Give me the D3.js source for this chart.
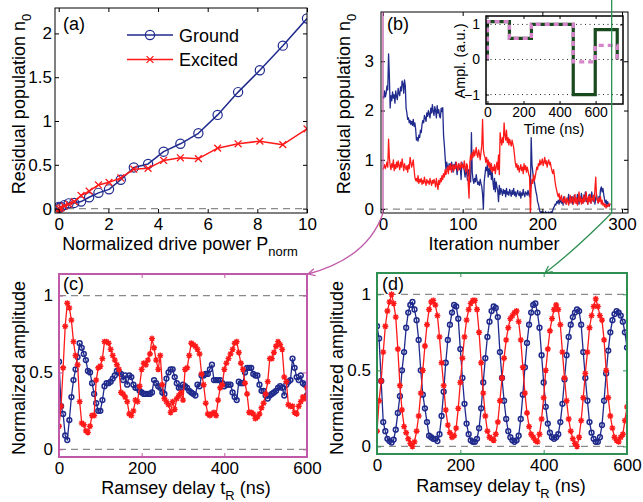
<!DOCTYPE html>
<html>
<head>
<meta charset="utf-8">
<script src="https://cdn.jsdelivr.net/npm/d3@7"></script>
<style>
  body { margin: 0; background: #fff; }
  svg { display: block; }
</style>
</head>
<body>
<svg id="fig" width="643" height="502"></svg>
<script>
// ---------- (a) residual population vs drive power ----------
const powerNorm = [0, 0.025, 0.1, 0.225, 0.4, 0.625, 0.9, 1.225, 1.6, 2.025, 2.5, 3.025, 3.6, 4.225, 4.9, 5.625, 6.4, 7.225, 8.1, 9.025, 10];
const residualGround = [0.02, 0.01, 0.02, 0.04, 0.06, 0.065, 0.08, 0.13, 0.18, 0.22, 0.33, 0.47, 0.51, 0.65, 0.74, 0.86, 1.07, 1.33, 1.58, 1.86, 2.17];
const residualExcited = [-0.04, 0.0, 0.01, 0.03, 0.05, 0.08, 0.15, 0.20, 0.27, 0.30, 0.35, 0.45, 0.46, 0.55, 0.58, 0.57, 0.69, 0.74, 0.77, 0.73, 0.91];
const legendLabels = ["Ground", "Excited"];

// ---------- (b) residual population per optimisation iteration ----------
const iterGround = [
  2.30,2.25,2.40,2.28,2.35,2.50,2.42,3.15,2.70,2.05,
  2.30,2.20,2.38,2.25,2.32,2.15,2.40,2.28,2.22,2.45,
  2.35,2.30,2.48,2.40,2.60,2.55,2.35,2.62,2.50,2.05,
  1.95,1.82,1.85,1.75,1.80,1.72,1.78,1.70,1.82,1.68,
  1.75,1.62,1.40,1.45,1.38,1.50,1.45,1.60,1.55,1.72,
  1.80,1.75,1.90,1.85,1.78,1.95,1.88,2.00,1.92,1.85,
  2.05,1.95,2.12,1.98,1.90,2.08,2.00,1.85,2.10,1.95,
  2.02,1.88,1.85,2.05,1.98,2.06,1.50,1.30,1.05,0.80,
  0.95,0.85,0.78,0.92,0.85,0.80,0.95,0.88,0.75,0.90,
  0.82,0.95,0.88,0.70,0.85,0.92,0.80,0.88,0.60,0.95,
  0.85,0.90,0.78,0.65,0.82,0.75,0.58,0.80,0.70,0.62,
  0.55,1.55,0.75,0.60,0.52,0.62,0.55,0.70,0.58,0.50,
  0.55,0.48,0.60,0.52,0.45,0.30,0.00,0.55,0.70,0.85,
  0.78,0.90,0.65,0.82,0.70,0.88,0.60,0.75,0.55,0.40,
  0.62,0.35,0.55,0.45,0.38,0.15,0.48,0.30,0.42,0.35,
  0.28,0.40,0.32,0.38,0.25,0.42,0.30,0.35,0.28,0.40,
  0.33,0.26,0.38,0.30,0.42,0.28,0.35,0.25,0.32,0.38,
  0.30,0.27,0.36,0.22,0.33,0.28,0.40,0.30,0.25,0.35,
  0.32,0.28,0.38,0.30,0.25,0.35,1.45,0.90,0.75,0.60,
  0.55,0.45,0.35,0.28,0.15,0.10,0.02,-0.05,-0.08,-0.05,
  -0.10,-0.06,-0.08,-0.12,-0.05,-0.09,-0.07,-0.11,-0.06,-0.08,
  -0.10,-0.05,-0.08,-0.03,0.02,0.05,0.10,0.08,0.15,0.12,
  0.18,0.10,0.22,0.15,0.12,0.20,0.08,0.25,0.14,0.18,
  0.10,0.22,0.16,0.30,0.12,0.20,0.15,0.25,0.10,0.18,
  0.28,0.15,0.22,0.12,0.30,0.18,0.10,0.25,0.15,0.32,
  0.20,0.12,0.28,0.18,0.35,0.15,0.22,0.10,0.25,0.30,
  0.18,0.12,0.35,0.20,0.15,0.28,0.10,0.22,0.30,0.18,
  0.12,0.25,0.20,0.40,0.45,0.35,0.42,0.30,0.20,0.12,
  0.18,0.08,0.15,0.10,0.05,0.10
];
const iterExcited = [
  0.80,0.85,0.90,0.82,0.88,0.95,0.85,1.42,1.05,0.88,
  0.80,0.92,0.85,1.00,0.78,0.90,0.82,0.95,0.85,0.98,
  0.88,0.80,0.95,0.85,1.02,0.90,0.78,0.92,0.85,0.80,
  0.88,0.75,0.90,0.82,1.05,0.95,0.85,0.92,1.00,0.80,
  0.65,0.58,0.62,0.55,0.68,0.52,0.60,0.55,0.62,0.50,
  0.58,0.52,0.65,0.55,0.48,0.60,0.53,0.57,0.50,0.62,
  0.55,0.48,0.58,0.52,0.60,0.55,0.45,0.62,0.50,0.40,
  0.58,0.50,0.62,0.55,0.68,0.60,0.72,0.65,0.80,0.70,
  0.78,0.85,0.72,0.88,0.80,0.92,0.75,0.85,0.90,0.78,
  0.88,0.82,0.95,0.85,0.78,0.92,0.88,0.80,0.95,0.85,
  0.90,0.82,0.98,0.85,0.75,0.92,0.88,0.50,0.22,0.95,
  1.10,1.00,1.15,1.05,1.20,1.08,1.15,1.25,1.10,1.05,
  1.20,1.12,1.00,1.15,1.30,1.82,1.20,1.10,1.05,0.95,
  1.05,0.90,1.00,0.85,0.95,0.80,0.92,0.75,0.85,0.78,
  0.90,0.72,0.85,0.95,0.80,1.10,0.70,1.55,1.40,1.30,
  1.45,1.35,1.75,1.50,1.40,1.60,1.35,1.45,1.30,1.42,
  1.35,1.28,1.40,1.32,1.25,1.10,0.95,0.85,0.92,0.80,
  0.88,0.75,0.82,0.90,0.78,0.85,0.72,0.92,0.80,0.88,
  0.75,0.85,0.78,0.70,0.65,-0.10,0.45,0.60,0.52,0.70,
  0.58,0.65,0.75,0.85,0.80,0.92,0.88,1.00,0.90,0.95,
  1.02,0.88,0.95,1.05,0.92,0.98,0.85,0.95,1.00,0.90,
  0.95,0.85,0.78,0.72,0.80,0.70,0.55,0.45,0.38,0.30,
  0.25,0.32,0.18,0.22,0.28,0.15,0.20,0.12,0.25,0.18,
  0.10,0.22,0.15,0.08,0.20,0.28,0.12,0.18,0.25,0.10,
  0.15,0.30,0.12,0.22,0.08,0.18,0.35,0.15,0.25,0.10,
  0.20,0.12,0.28,0.15,0.22,0.35,0.18,0.10,0.25,0.15,
  0.30,0.12,0.22,0.18,0.28,0.15,0.40,0.65,0.25,0.18,
  0.12,0.22,0.15,0.25,0.10,0.18,0.08,0.12,0.05,0.10,
  0.02,0.08,0.05,0.10,0.06,0.12
];
const firstIteration = 0;
const lastIteration = 287;

// ---------- inset: control pulse ----------
const pulseEdges = [0, 122, 244, 476, 598, 720];
const pulseInitial = [1.08, 0.6, 1.0, -1.0, 0.85];
const pulseOptimised = [1.08, 0.6, 1.0, -0.07, 0.4];

// ---------- (c), (d) Ramsey fringes ----------
const ramseyDelay = d3.range(0, 601, 5);
const ramseyGroundC = [
  0.57,0.28,0.23,0.09,0.06,0.19,0.34,0.45,0.52,0.60,
  0.69,0.66,0.62,0.58,0.51,0.50,0.43,0.36,0.30,0.25,
  0.25,0.32,0.41,0.43,0.43,0.44,0.46,0.48,0.51,0.50,
  0.49,0.45,0.48,0.42,0.48,0.47,0.42,0.40,0.40,0.38,
  0.37,0.36,0.36,0.36,0.36,0.37,0.45,0.43,0.41,0.40,
  0.37,0.36,0.46,0.50,0.52,0.52,0.47,0.43,0.40,0.40,
  0.42,0.41,0.40,0.38,0.37,0.36,0.35,0.42,0.41,0.48,
  0.48,0.49,0.49,0.52,0.55,0.45,0.45,0.45,0.45,0.43,
  0.41,0.42,0.42,0.42,0.37,0.34,0.32,0.44,0.43,0.43,
  0.50,0.53,0.53,0.53,0.49,0.48,0.48,0.42,0.38,0.38,
  0.35,0.33,0.35,0.36,0.37,0.38,0.40,0.41,0.40,0.35,
  0.42,0.44,0.45,0.59,0.53,0.47,0.45,0.48,0.43,0.42,
  0.35
];
const ramseyExcitedC = [
  0.15,0.28,0.53,0.80,0.95,0.92,0.84,0.70,0.61,0.55,
  0.31,0.17,0.16,0.12,0.11,0.15,0.22,0.22,0.45,0.53,
  0.54,0.59,0.70,0.70,0.69,0.65,0.61,0.58,0.55,0.52,
  0.37,0.36,0.34,0.31,0.23,0.22,0.25,0.32,0.31,0.41,
  0.52,0.56,0.55,0.58,0.62,0.72,0.66,0.58,0.52,0.61,
  0.42,0.33,0.31,0.29,0.24,0.31,0.26,0.33,0.35,0.37,
  0.32,0.52,0.53,0.61,0.69,0.68,0.67,0.65,0.62,0.49,
  0.42,0.30,0.23,0.22,0.23,0.24,0.22,0.32,0.40,0.42,
  0.52,0.56,0.59,0.62,0.65,0.69,0.70,0.63,0.56,0.52,
  0.43,0.36,0.24,0.24,0.23,0.20,0.21,0.23,0.27,0.30,
  0.36,0.44,0.59,0.59,0.63,0.67,0.70,0.68,0.65,0.47,
  0.44,0.29,0.28,0.28,0.24,0.23,0.28,0.31,0.34,0.33,
  0.40
];
const ramseyGroundD = [
  0.79,0.71,0.43,0.16,0.10,0.05,0.035,0.025,0.045,0.11,
  0.22,0.33,0.50,0.62,0.78,0.88,0.93,0.95,0.90,0.83,
  0.70,0.50,0.34,0.25,0.16,0.07,0.06,0.05,0.05,0.035,
  0.08,0.20,0.36,0.55,0.70,0.80,0.88,0.93,0.92,0.84,
  0.64,0.45,0.28,0.15,0.08,0.04,0.03,0.03,0.05,0.12,
  0.25,0.42,0.58,0.72,0.82,0.89,0.92,0.91,0.85,0.62,
  0.45,0.30,0.18,0.10,0.06,0.04,0.03,0.04,0.07,0.18,
  0.34,0.52,0.68,0.80,0.88,0.93,0.94,0.88,0.78,0.60,
  0.42,0.26,0.15,0.09,0.06,0.05,0.06,0.08,0.16,0.28,
  0.44,0.60,0.72,0.80,0.85,0.88,0.90,0.89,0.80,0.62,
  0.45,0.30,0.16,0.09,0.05,0.03,0.03,0.06,0.14,0.30,
  0.48,0.63,0.75,0.83,0.87,0.89,0.88,0.86,0.82,0.75,
  0.65
];
const ramseyExcitedD = [
  0.10,0.30,0.43,0.62,0.79,0.89,0.95,1.00,0.94,0.85,
  0.64,0.40,0.24,0.13,0.09,0.05,0.02,0.00,0.03,0.10,
  0.20,0.35,0.50,0.66,0.80,0.90,0.95,0.96,0.93,0.86,
  0.72,0.55,0.40,0.24,0.14,0.09,0.06,0.07,0.12,0.25,
  0.42,0.58,0.72,0.83,0.90,0.94,0.96,0.96,0.90,0.75,
  0.55,0.35,0.20,0.10,0.06,0.05,0.04,0.08,0.16,0.30,
  0.45,0.58,0.70,0.78,0.84,0.86,0.88,0.89,0.82,0.70,
  0.52,0.35,0.22,0.13,0.08,0.06,0.04,0.03,0.08,0.18,
  0.32,0.50,0.64,0.76,0.84,0.90,0.93,0.90,0.80,0.62,
  0.45,0.30,0.18,0.10,0.05,0.02,0.00,0.06,0.17,0.32,
  0.48,0.62,0.78,0.86,0.92,0.97,0.92,0.86,0.83,0.70,
  0.50,0.32,0.20,0.12,0.06,0.04,0.03,0.06,0.08,0.17,
  0.26
];

// ---------- tick values ----------
const ticksAx = [0, 2, 4, 6, 8, 10], ticksAy = [0, 0.5, 1, 1.5, 2];
const ticksBx = [0, 100, 200, 300], ticksBy = [0, 1, 2, 3];
const ticksInsetX = [0, 200, 400, 600], ticksInsetY = [-1, 0, 1];
const ticksRx = [0, 200, 400, 600], ticksRy = [0, 0.5, 1];

// ---------- styling ----------
const FONT = "'Liberation Sans', Arial, Helvetica, sans-serif";
const BLUE = "#1f2a8c", RED = "#ff1a1a";
const PINK = "#c05aa8", GREEN = "#2f8f52";
const INSET_GREEN = "#184a1e", INSET_PINK = "#d884cc";
const DASH = "#8a8a8a";
const TICK_FS = 17, LABEL_FS = 18;

const svg = d3.select("#fig");
const defs = svg.append("defs");
const fmt = d3.format("~g");

function makePanel(id, o) {
  const x = d3.scaleLinear().domain(o.xDomain).range([o.left, o.right]);
  const y = d3.scaleLinear().domain(o.yDomain).range([o.bottom, o.top]);
  const g = svg.append("g").attr("id", id);
  if (o.background) {
    g.append("rect").attr("x", o.left).attr("y", o.top)
      .attr("width", o.right - o.left).attr("height", o.bottom - o.top).attr("fill", "#fff");
  }
  defs.append("clipPath").attr("id", id + "-clip").append("rect")
    .attr("x", o.left).attr("y", o.top).attr("width", o.right - o.left).attr("height", o.bottom - o.top);
  const plot = g.append("g").attr("clip-path", `url(#${id}-clip)`);
  return { o, x, y, g, plot };
}

function drawAxes(p) {
  const { o, x, y, g } = p;
  const col = o.color || "#000";
  const fs = o.fontSize || TICK_FS;
  const tl = o.tickLen || 4;
  const none = () => "";
  const parts = [
    g.append("g").attr("transform", `translate(0,${o.bottom})`)
      .call(d3.axisBottom(x).tickValues(o.xTicks).tickSizeInner(-tl).tickSizeOuter(0).tickPadding(o.xPad).tickFormat(fmt)),
    g.append("g").attr("transform", `translate(0,${o.top})`)
      .call(d3.axisTop(x).tickValues(o.xTicks).tickSizeInner(-tl).tickSizeOuter(0).tickFormat(none)),
    g.append("g").attr("transform", `translate(${o.left},0)`)
      .call(d3.axisLeft(y).tickValues(o.yTicks).tickSizeInner(-tl).tickSizeOuter(0).tickPadding(o.yPad).tickFormat(fmt)),
    g.append("g").attr("transform", `translate(${o.right},0)`)
      .call(d3.axisRight(y).tickValues(o.yTicks).tickSizeInner(-tl).tickSizeOuter(0).tickFormat(none))
  ];
  parts.forEach(a => {
    a.attr("font-family", FONT).attr("font-size", fs);
    a.select(".domain").remove();
    a.selectAll(".tick line").attr("stroke", col).attr("stroke-width", 1);
    a.selectAll(".tick text").attr("fill", "#000");
  });
  g.append("rect").attr("x", o.left).attr("y", o.top)
    .attr("width", o.right - o.left).attr("height", o.bottom - o.top)
    .attr("fill", "none").attr("stroke", col).attr("stroke-width", o.frameWidth || 1);
}

function hDash(p, value) {
  p.plot.append("line")
    .attr("x1", p.o.left).attr("x2", p.o.right)
    .attr("y1", p.y(value)).attr("y2", p.y(value))
    .attr("stroke", DASH).attr("stroke-width", 1.2).attr("stroke-dasharray", "7,5");
}

function label(x, y, main, sub, tail, opt = {}) {
  const fs = opt.fs || LABEL_FS;
  const t = svg.append("text")
    .attr("font-family", FONT).attr("font-size", fs).attr("fill", "#000")
    .attr("text-anchor", opt.anchor || "middle")
    .attr("transform", `translate(${x},${y})` + (opt.rotate ? " rotate(-90)" : ""));
  t.append("tspan").text(main);
  if (sub) t.append("tspan").attr("font-size", fs * 0.72).attr("dy", fs * 0.34).text(sub);
  if (tail) t.append("tspan").attr("dy", -fs * 0.34).text(tail);
  return t;
}

const crossPath = s => `M${-s},${-s}L${s},${s}M${-s},${s}L${s},${-s}`;
const starPath = s => {
  const a = s * 0.72;
  return `M${-s},0H${s}M0,${-s}V${s}M${-a},${-a}L${a},${a}M${-a},${a}L${a},${-a}`;
};

function series(p, xs, ys, color, width, marker) {
  const pts = xs.map((d, i) => [p.x(d), p.y(ys[i])]);
  p.plot.append("path").attr("d", d3.line()(pts))
    .attr("fill", "none").attr("stroke", color).attr("stroke-width", width)
    .attr("stroke-linejoin", "round");
  if (!marker) return;
  const m = p.plot.append("g");
  pts.forEach(([px, py]) => {
    if (marker.type === "circle") {
      m.append("circle").attr("cx", px).attr("cy", py).attr("r", marker.size)
        .attr("fill", "none").attr("stroke", color).attr("stroke-width", marker.width);
    } else {
      m.append("path").attr("transform", `translate(${px},${py})`)
        .attr("d", marker.type === "cross" ? crossPath(marker.size) : starPath(marker.size))
        .attr("fill", "none").attr("stroke", color).attr("stroke-width", marker.width);
    }
  });
}

// ================= (a) =================
const pA = makePanel("pa", {
  left: 55, right: 307, top: 8, bottom: 213,
  xDomain: [-0.15, 10], yDomain: [-0.05, 2.29],
  xTicks: ticksAx, yTicks: ticksAy, xPad: 5, yPad: 3
});
hDash(pA, 0);
series(pA, powerNorm, residualGround, BLUE, 1.5, { type: "circle", size: 4.6, width: 1.2 });
series(pA, powerNorm, residualExcited, RED, 1.5, { type: "cross", size: 3.4, width: 1.3 });
drawAxes(pA);

// legend
[[BLUE, "circle"], [RED, "cross"]].forEach(([c, m], i) => {
  const ly = 35 + i * 24.5;
  const lg = pA.g.append("g");
  lg.append("line").attr("x1", 127).attr("x2", 173).attr("y1", ly).attr("y2", ly)
    .attr("stroke", c).attr("stroke-width", 1.5);
  if (m === "circle") {
    lg.append("circle").attr("cx", 150).attr("cy", ly).attr("r", 4.6)
      .attr("fill", "none").attr("stroke", c).attr("stroke-width", 1.2);
  } else {
    lg.append("path").attr("transform", `translate(150,${ly})`).attr("d", crossPath(3.4))
      .attr("stroke", c).attr("stroke-width", 1.3);
  }
  lg.append("text").attr("x", 179).attr("y", ly + 6.5)
    .attr("font-family", FONT).attr("font-size", LABEL_FS).text(legendLabels[i]);
});
label(63, 30, "(a)", null, null, { anchor: "start" });
label(180, 250, "Normalized drive power P", "norm", null);
label(24.5, 104, "Residual population n", "0", null, { rotate: true });

// ================= (b) =================
const pB = makePanel("pb", {
  left: 381, right: 628, top: 12, bottom: 213,
  xDomain: [-2.5, 307.5], yDomain: [-0.08, 4.0],
  xTicks: ticksBx, yTicks: ticksBy, xPad: 5, yPad: 7
});
hDash(pB, 0);
const iters = iterGround.map((_, i) => i);
series(pB, iters, iterGround, BLUE, 1.3, null);
series(pB, iters, iterExcited, RED, 1.3, null);
drawAxes(pB);
label(387, 30, "(b)", null, null, { anchor: "start" });
label(494, 250, "Iteration number", null, null);
label(350, 104, "Residual population n", "0", null, { rotate: true });

// inset
const pI = makePanel("pin", {
  left: 486, right: 623, top: 16, bottom: 104,
  xDomain: [-8, 752], yDomain: [-1.27, 1.24],
  xTicks: ticksInsetX, yTicks: ticksInsetY, xPad: 3, yPad: 6,
  fontSize: 14, tickLen: 3, frameWidth: 1.5, background: true
});
ticksInsetY.forEach(v => {
  pI.plot.append("line").attr("x1", pI.o.left).attr("x2", pI.o.right)
    .attr("y1", pI.y(v)).attr("y2", pI.y(v))
    .attr("stroke", "#222").attr("stroke-width", 1).attr("stroke-dasharray", "1,3.5");
});
function pulsePoints(levels) {
  const pts = [[pulseEdges[0], 0]];
  levels.forEach((lv, i) => { pts.push([pulseEdges[i], lv]); pts.push([pulseEdges[i + 1], lv]); });
  pts.push([pulseEdges[pulseEdges.length - 1], 0]);
  return pts.map(([t, v]) => [pI.x(t), pI.y(v)]);
}
pI.plot.append("path").attr("d", d3.line()(pulsePoints(pulseInitial)))
  .attr("fill", "none").attr("stroke", INSET_GREEN).attr("stroke-width", 3.2);
pI.plot.append("path").attr("d", d3.line()(pulsePoints(pulseOptimised)))
  .attr("fill", "none").attr("stroke", INSET_PINK).attr("stroke-width", 3.2)
  .attr("stroke-dasharray", "5,4");
drawAxes(pI);
label(554, 134, "Time (ns)", null, null, { fs: 14.5 });
label(465, 61, "Ampl. (a.u.)", null, null, { fs: 14.5, rotate: true });

// ================= (c) =================
const pC = makePanel("pc", {
  left: 59, right: 307, top: 274, bottom: 457,
  xDomain: [0, 600], yDomain: [-0.05, 1.14],
  xTicks: ticksRx, yTicks: ticksRy, xPad: 5, yPad: 6,
  color: PINK, frameWidth: 2
});
hDash(pC, 0); hDash(pC, 1);
series(pC, ramseyDelay, ramseyGroundC, BLUE, 1.3, { type: "circle", size: 2.4, width: 1.5 });
series(pC, ramseyDelay, ramseyExcitedC, RED, 1.3, { type: "star", size: 3, width: 1.4 });
drawAxes(pC);
label(63, 290, "(c)", null, null, { anchor: "start" });
label(186, 494, "Ramsey delay t", "R", " (ns)");
label(25, 368, "Normalized amplitude", null, null, { rotate: true });

// ================= (d) =================
const pD = makePanel("pd", {
  left: 377, right: 627, top: 273, bottom: 454,
  xDomain: [0, 600], yDomain: [-0.05, 1.14],
  xTicks: ticksRx, yTicks: ticksRy, xPad: 5, yPad: 6,
  color: GREEN, frameWidth: 2
});
hDash(pD, 0); hDash(pD, 1);
series(pD, ramseyDelay, ramseyGroundD, BLUE, 1.3, { type: "circle", size: 2.4, width: 1.5 });
series(pD, ramseyDelay, ramseyExcitedD, RED, 1.3, { type: "star", size: 3, width: 1.4 });
drawAxes(pD);
label(382, 290, "(d)", null, null, { anchor: "start" });
label(501, 492, "Ramsey delay t", "R", " (ns)");
label(343, 368, "Normalized amplitude", null, null, { rotate: true });

// ================= connectors from (b) to (c) and (d) =================
function arrowMarker(id, color) {
  defs.append("marker").attr("id", id)
    .attr("viewBox", "-8 -5 10 10").attr("refX", 0).attr("refY", 0)
    .attr("markerWidth", 10).attr("markerHeight", 10)
    .attr("markerUnits", "userSpaceOnUse").attr("orient", "auto")
    .append("path").attr("d", "M-7,-3.5L0,0L-7,3.5")
    .attr("fill", "none").attr("stroke", color).attr("stroke-width", 1.2);
}
arrowMarker("arrow-pink", PINK);
arrowMarker("arrow-green", GREEN);

const xPink = pB.x(firstIteration), xGreen = pB.x(lastIteration);
svg.append("path")
  .attr("d", `M${xPink},${pB.o.top}L${xPink},${pB.o.bottom}Q368,258 ${pC.o.right + 1},${pC.o.top}`)
  .attr("fill", "none").attr("stroke", PINK).attr("stroke-width", 1.3)
  .attr("marker-end", "url(#arrow-pink)");
svg.append("path")
  .attr("d", `M${xGreen},0L${xGreen},${pB.o.bottom}Q575,250 545,${pD.o.top}`)
  .attr("fill", "none").attr("stroke", GREEN).attr("stroke-width", 1.3)
  .attr("marker-end", "url(#arrow-green)");
</script>
</body>
</html>
